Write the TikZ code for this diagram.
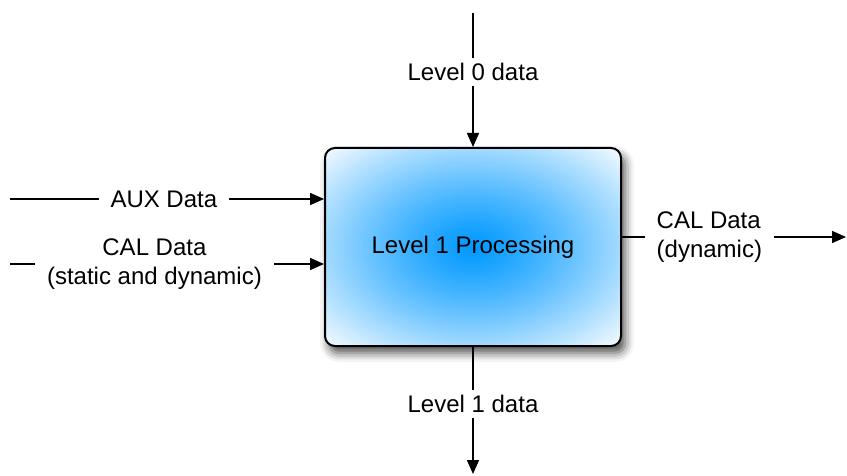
\documentclass[tikz,border=0pt]{standalone}
\usepackage{fontspec}
\setmainfont{Liberation Sans}
\usetikzlibrary{arrows.meta,shadows.blur}

\definecolor{procblue}{RGB}{0,153,255}

\begin{document}
\begin{tikzpicture}[x=0.5pt,y=-0.5pt,
   flow/.style={line width=0.75pt,-{Triangle[length=7pt,width=6pt]}},
   lbl/.style={fill=white,inner xsep=6pt,inner ysep=2.5pt,align=center,font=\fontsize{12}{14.5}\selectfont}]
   \useasboundingbox (0,0) rectangle (847,476);
   \node[draw,line width=1pt,rounded corners=5pt,minimum width=148pt,minimum height=99pt,fill=white,
         path picture={
            \foreach \k in {60,59,...,1}{
               \pgfmathsetmacro\pct{100-96*(\k/60)^1.2}
               \fill[procblue!\pct!white] (path picture bounding box.center) ellipse [x radius=\k/60*104.7pt,y radius=\k/60*70pt];
            }},
         blur shadow={shadow xshift=2pt,shadow yshift=-3.5pt,shadow blur radius=4.5pt,shadow opacity=70},
         font=\fontsize{12}{14.5}\selectfont] (proc) at (473,247) {Level 1 Processing};
   \coordinate (l0) at (473,13);
   \coordinate (l1) at (473,474);
   \coordinate (aux) at (10,199);
   \coordinate (calin) at (10,264);
   \coordinate (calout) at (846,237);
   \draw[flow] (l0) -- node[lbl,pos=.44] {Level 0 data} (proc.north);
   \draw[flow] (proc.south) -- node[lbl,pos=.45] {Level 1 data} (l1);
   \draw[flow] (aux) -- node[lbl,pos=.49] {AUX Data} (aux -| proc.west);
   \draw[flow] (calin) -- node[lbl,pos=.46] {CAL Data\\(static and dynamic)} (calin -| proc.west);
   \draw[flow] (proc.east |- calout) -- node[lbl,pos=.39,align=left] {CAL Data\\(dynamic)} (calout);
\end{tikzpicture}
\end{document}
